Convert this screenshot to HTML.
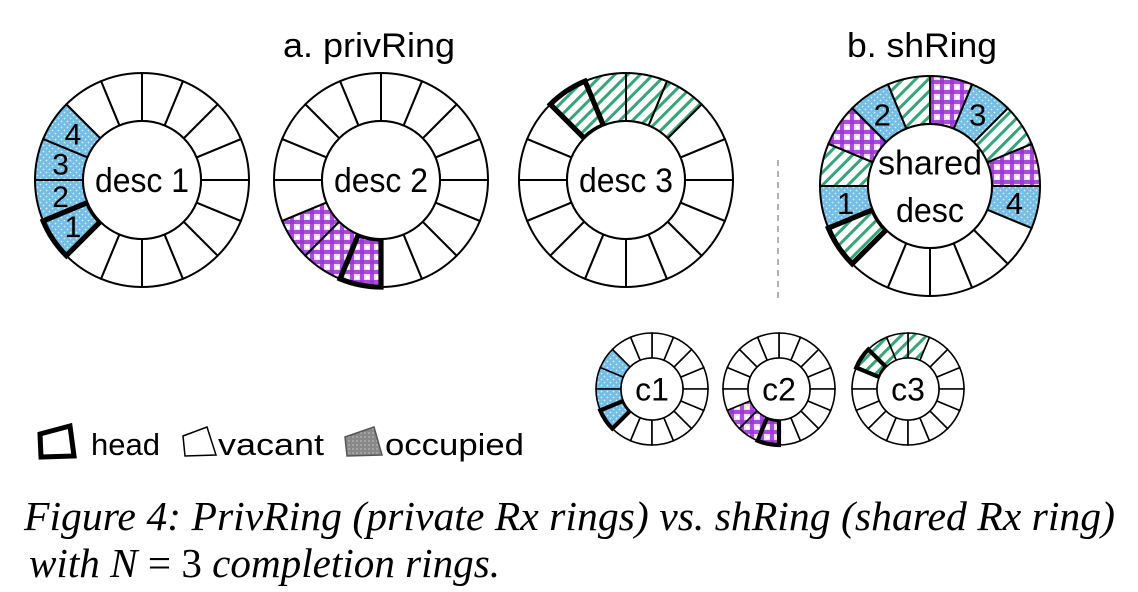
<!DOCTYPE html>
<html><head><meta charset="utf-8"><style>
body{margin:0;background:#fff;}
svg{display:block}
text{font-family:"Liberation Sans",sans-serif;}
</style></head><body>
<svg id="s" width="1138" height="592" viewBox="0 0 1138 592" xmlns="http://www.w3.org/2000/svg">
<defs>
<pattern id="pb" width="6" height="6" patternUnits="userSpaceOnUse"><rect width="6" height="6" fill="#74bde6"/><circle cx="1.5" cy="1.5" r="0.9" fill="#d8eefa"/><circle cx="4.5" cy="4.5" r="0.9" fill="#d8eefa"/></pattern>
<pattern id="pp" width="10" height="10" patternUnits="userSpaceOnUse"><rect width="10" height="10" fill="#efdcf9"/><rect x="0" y="0" width="4" height="10" fill="#9a33d6" opacity="0.85"/><rect x="0" y="0" width="10" height="4" fill="#9a33d6" opacity="0.85"/><rect x="6" y="6" width="3" height="3" fill="#fff"/></pattern>
<pattern id="pg" width="9" height="9" patternUnits="userSpaceOnUse" patternTransform="rotate(45)"><rect width="9" height="9" fill="#fff"/><rect width="3" height="9" fill="#35a57a"/></pattern>
<pattern id="pk" width="4" height="4" patternUnits="userSpaceOnUse"><rect width="4" height="4" fill="#888"/><circle cx="1" cy="1" r="0.7" fill="#ccc"/></pattern>
</defs>
<g id="g"></g>
<text x="369" y="57" font-size="34" text-anchor="middle" textLength="172" lengthAdjust="spacingAndGlyphs">a. privRing</text>
<text x="922" y="57" font-size="34" text-anchor="middle" textLength="150" lengthAdjust="spacingAndGlyphs">b. shRing</text>
<line x1="778" y1="160" x2="778" y2="302" stroke="#999" stroke-width="1.5" stroke-dasharray="6,5"/>
<!-- legend -->
<path d="M40,434 L70,426 L74,456 L41,457 Z" fill="#fff" stroke="#000" stroke-width="5"/>
<text x="91" y="455" font-size="31" textLength="69" lengthAdjust="spacingAndGlyphs">head</text>
<path d="M183,436 L207,427 L216,455 L185,456 Z" fill="#fff" stroke="#000" stroke-width="1.5"/>
<text x="218" y="455" font-size="31" textLength="106" lengthAdjust="spacingAndGlyphs">vacant</text>
<path d="M345,437 L374,427 L382,455 L347,456 Z" fill="url(#pk)" stroke="#555" stroke-width="1.5"/>
<text x="385" y="455" font-size="31" textLength="139" lengthAdjust="spacingAndGlyphs">occupied</text>
<text x="24" y="530" font-size="41" font-style="italic" style="font-family:'Liberation Serif',serif" textLength="1091" lengthAdjust="spacingAndGlyphs">Figure 4:  PrivRing (private Rx rings) vs. shRing (shared Rx ring)</text>
<text x="29" y="577" font-size="41" font-style="italic" style="font-family:'Liberation Serif',serif" textLength="471" lengthAdjust="spacingAndGlyphs">with N <tspan font-style="normal">=</tspan> <tspan font-style="normal">3</tspan> completion rings.</text>
</svg>
<script>
var g=document.getElementById('g'),NS="http://www.w3.org/2000/svg";
function el(t,a,txt){var e=document.createElementNS(NS,t);for(var k in a)e.setAttribute(k,a[k]);if(txt)e.textContent=txt;g.appendChild(e);return e;}
function pt(cx,cy,r,a){a=a*Math.PI/180;return [cx+r*Math.cos(a),cy-r*Math.sin(a)];}
function seg(cx,cy,ri,ro,a0,a1){var p1=pt(cx,cy,ro,a0),p2=pt(cx,cy,ro,a1),p3=pt(cx,cy,ri,a1),p4=pt(cx,cy,ri,a0);
return "M"+p1+" A"+ro+","+ro+" 0 0 0 "+p2+" L"+p3+" A"+ri+","+ri+" 0 0 1 "+p4+" Z";}
function ring(cx,cy,ri,ro,fills,head,labels,fs,center,cfs,sw,tl){
 for(var k=0;k<16;k++){var f=fills[k]||'#fff';el('path',{d:seg(cx,cy,ri,ro,k*22.5,(k+1)*22.5),fill:f,stroke:'#000','stroke-width':sw});}
 if(head!=null)el('path',{d:seg(cx,cy,ri,ro,head*22.5,(head+1)*22.5),fill:'none',stroke:'#000','stroke-width':sw*2.6,'stroke-linejoin':'miter'});
 el('circle',{cx:cx,cy:cy,r:ri,fill:'#fff',stroke:'#000','stroke-width':sw});
 for(var k in labels){var p=pt(cx,cy,(ri+ro)/2,k*22.5+11.25);el('text',{x:p[0],y:p[1]+fs*0.36,'font-size':fs,'text-anchor':'middle'},labels[k]);}
 center.forEach(function(c,i){var a={x:cx,y:cy+cfs*0.36+(i-(center.length-1)/2)*cfs*1.4,'font-size':cfs,'text-anchor':'middle'};if(tl&&tl[i]){a.textLength=tl[i];a.lengthAdjust='spacingAndGlyphs';}el('text',a,c);});
}
var B='url(#pb)',P='url(#pp)',G='url(#pg)';
ring(142,180,59,107,{6:B,7:B,8:B,9:B},9,{6:'4',7:'3',8:'2',9:'1'},30,['desc 1'],34,2,[94]);
ring(381,180,59,107,{9:P,10:P,11:P},11,{},30,['desc 2'],34,2,[94]);
ring(626,180,59,107,{2:G,3:G,4:G,5:G},5,{},30,['desc 3'],34,2,[94]);
ring(930,186,62,110,{15:B,0:P,1:G,2:B,3:P,4:G,5:B,6:P,7:G,8:B,9:G},9,{15:'4',2:'3',5:'2',8:'1'},31,['shared','desc'],34,2,[104,68]);
ring(652,389,31,56,{6:B,7:B,8:B,9:B},9,{},20,['c1'],32,1.6);
ring(779,389,31,56,{9:P,10:P,11:P},11,{},20,['c2'],32,1.6);
ring(908,389,31,56,{3:G,4:G,5:G,6:G},6,{},20,['c3'],32,1.6);
</script>
</body></html>
